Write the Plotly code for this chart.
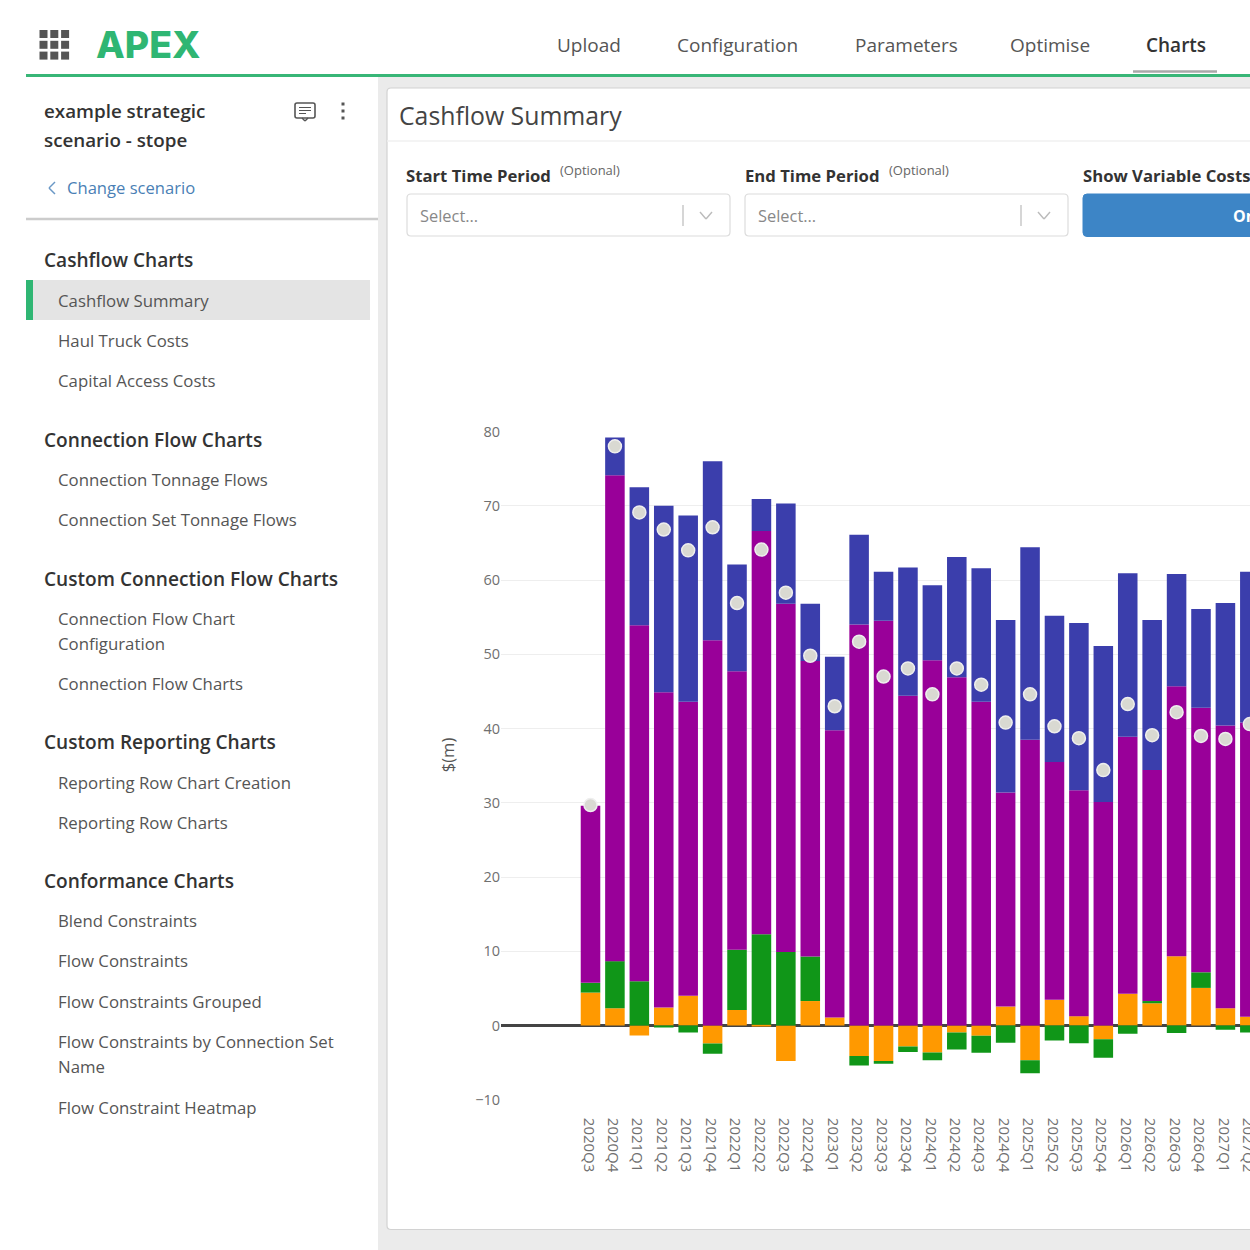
import plotly.graph_objects as go

# ---------- chart data ----------
quarters = ["2020Q3","2020Q4","2021Q1","2021Q2","2021Q3","2021Q4","2022Q1","2022Q2","2022Q3","2022Q4",
            "2023Q1","2023Q2","2023Q3","2023Q4","2024Q1","2024Q2","2024Q3","2024Q4","2025Q1","2025Q2",
            "2025Q3","2025Q4","2026Q1","2026Q2","2026Q3","2026Q4","2027Q1","2027Q2"]
orange = [4.44,2.33,-1.35,2.42,4.0,-2.42,2.1,0.1,-4.76,3.3,1.08,-4.09,-4.76,-2.83,-3.64,-0.94,-1.39,2.56,
          -4.67,3.46,1.26,-1.84,4.27,3.0,9.34,5.07,2.33,1.17]
green = [1.31,6.34,5.97,-0.15,-0.94,-1.39,8.1,12.2,9.9,6.0,0.0,-1.3,-0.4,-0.72,-1.03,-2.29,-2.29,-2.33,
         -1.75,-2.02,-2.38,-2.51,-1.12,0.3,-0.99,2.1,-0.58,-0.94]
purple = [23.85,65.43,47.93,42.48,39.6,51.9,37.5,54.3,46.9,39.8,38.7,54.0,54.5,44.4,49.2,46.9,43.6,28.84,
          38.5,32.04,30.44,30.1,34.63,31.1,36.36,35.62,38.07,39.63]
blue = [0.0,5.1,18.6,25.1,25.1,24.1,14.4,4.3,13.5,7.7,9.9,12.1,6.6,17.3,10.1,16.2,18.0,23.2,25.9,19.7,22.5,
        21.0,22.0,20.2,15.1,13.3,16.5,20.3]
net = [29.7,78.0,69.1,66.8,64.0,67.1,56.9,64.1,58.3,49.8,43.0,51.7,47.0,48.1,44.6,48.1,45.9,40.8,44.6,40.3,
       38.7,34.4,43.3,39.1,42.2,39.0,38.6,40.6]
y_ticks = [-10,0,10,20,30,40,50,60,70,80]

# ---------- page text ----------
nav_items = ["Upload","Configuration","Parameters","Optimise","Charts"]
nav_x = [557,677,855,1010,1146]
groups = ["Cashflow Charts","Connection Flow Charts","Custom Connection Flow Charts","Custom Reporting Charts","Conformance Charts"]
group_y = [261,440.5,579.5,743,881.5]
items = ["Cashflow Summary","Haul Truck Costs","Capital Access Costs","Connection Tonnage Flows","Connection Set Tonnage Flows",
         "Connection Flow Chart","Configuration","Connection Flow Charts","Reporting Row Chart Creation","Reporting Row Charts",
         "Blend Constraints","Flow Constraints","Flow Constraints Grouped","Flow Constraints by Connection Set","Name","Flow Constraint Heatmap"]
item_y = [301,341,381.5,480.5,520.5,619.5,644.5,684.5,783.5,823.5,921,961,1002,1042,1067.5,1108]

FONT = "Open Sans"
W = H = 1250
px = lambda x: x / W
py = lambda y: 1 - y / H

shapes, ann = [], []
def rect(x0, y0, x1, y1, fill, line=None, lw=0):
    shapes.append(dict(type="rect", xref="paper", yref="paper", x0=px(x0), x1=px(x1), y0=py(y0), y1=py(y1),
                       fillcolor=fill, line=dict(color=line or fill, width=lw), layer="below"))
def rrect(x0, y0, x1, y1, r, fill, line=None, lw=0):
    p = lambda x, y: f"{px(x):.5f},{py(y):.5f}"
    path = (f"M{p(x0+r,y0)} L{p(x1-r,y0)} Q{p(x1,y0)} {p(x1,y0+r)} L{p(x1,y1-r)} Q{p(x1,y1)} {p(x1-r,y1)} "
            f"L{p(x0+r,y1)} Q{p(x0,y1)} {p(x0,y1-r)} L{p(x0,y0+r)} Q{p(x0,y0)} {p(x0+r,y0)} Z")
    shapes.append(dict(type="path", xref="paper", yref="paper", path=path, fillcolor=fill,
                       line=dict(color=line or fill, width=lw), layer="below"))
def seg(x0, y0, x1, y1, color, lw=1):
    shapes.append(dict(type="line", xref="paper", yref="paper", x0=px(x0), x1=px(x1), y0=py(y0), y1=py(y1),
                       line=dict(color=color, width=lw), layer="below"))
def text(x, y, s, size=16, color="#444444", weight=400, family=FONT, angle=0, anchor="left"):
    ann.append(dict(xref="paper", yref="paper", x=px(x), y=py(y - 0.8), text=s, showarrow=False, xanchor=anchor,
                    yanchor="middle", align="left", borderpad=0, borderwidth=0, textangle=angle,
                    font=dict(size=size, color=color, family=family, weight=weight)))

# backgrounds
rect(378, 77, 1250, 1250, "#ebebeb")
rrect(387, 88, 1262, 1229.5, 4, "#ffffff", "#d2d2d2", 1.2)
seg(387, 141, 1250, 141, "#f0f0f0", 1.5)
seg(26, 75.5, 1250, 75.5, "#38b677", 3)
seg(1133, 71.5, 1217, 71.5, "#a8a8a8", 2.5)
seg(26, 219, 378, 219, "#cccccc", 2.5)
rect(26, 280, 370, 320, "#e4e4e4")
rect(26, 280, 33, 320, "#2fb673")

# grid icon
for r in range(3):
    for c in range(3):
        x0 = 39.5 + c * 10.8
        y0 = 30 + r * 10.8
        rect(x0, y0, x0 + 8, y0 + 8, "#555555")
text(96, 45, "APEX", 37.4, "#2fb673", 800, "Inter")
for s, x in zip(nav_items, nav_x):
    text(x, 46, s, 19, "#333333" if s == "Charts" else "#555555", 600 if s == "Charts" else 400)

# sidebar header
text(44, 112, "example strategic", 18.8, "#333333", 600)
text(44, 141, "scenario - stope", 18.8, "#333333", 600)
seg(55, 182, 49, 188, "#6a98c6", 1.5)
seg(49, 188, 55, 194, "#6a98c6", 1.5)
text(67, 188.5, "Change scenario", 16.6, "#4a7fb5")
rrect(295, 103, 315, 118, 2, "#ffffff", "#555555", 1.6)
seg(302, 118, 305, 121, "#555555", 1.4)
seg(305, 121, 308, 118, "#555555", 1.4)
for yy, xe in zip([107.5, 110.5, 113.5], [311, 311, 306]):
    seg(299, yy, xe, yy, "#555555", 1)
for yy in [104, 111, 118]:
    rect(341.5, yy - 1.5, 344.5, yy + 1.5, "#555555")
for s, y in zip(groups, group_y):
    text(44, y, s, 19.1, "#333333", 600)
for s, y in zip(items, item_y):
    text(58, y, s, 16.8, "#555555")

# card header and controls
text(399, 115.5, "Cashflow Summary", 24.8, "#444444")
text(406, 176, "Start Time Period", 16.7, "#333333", 700)
text(560, 171, "(Optional)", 13, "#666666")
text(745, 176, "End Time Period", 16.7, "#333333", 700)
text(889, 171, "(Optional)", 13, "#666666")
for x0 in (407, 745):
    rrect(x0, 194, x0 + 323, 236, 4, "#ffffff", "#dcdcdc", 1.2)
    text(x0 + 12.5, 216, "Select...", 16.4, "#888888")
    seg(x0 + 276, 205, x0 + 276, 226, "#bbbbbb", 1.2)
    seg(x0 + 293, 212, x0 + 299, 219, "#bbbbbb", 1.4)
    seg(x0 + 299, 219, x0 + 305, 212, "#bbbbbb", 1.4)
rrect(1083, 194, 1262, 236.5, 4, "#3d85c6", "#3d85c6", 1)
text(447, 755, "$(m)", 16.5, "#555555", angle=-90, anchor="center")

# ---------- chart ----------
fig = go.Figure()
for name, vals, col in [("Orange", orange, "#FF9900"), ("Green", green, "#109618"),
                        ("Purple", purple, "#990099"), ("Blue", blue, "#3B3EAC")]:
    fig.add_bar(x=quarters, y=vals, name=name, marker=dict(color=col, line=dict(width=0)), showlegend=False)
fig.add_scatter(x=quarters, y=net, mode="markers", showlegend=False,
                marker=dict(size=13, color="#d9d9d2", line=dict(color="#eeeeee", width=1.5)))

# labels that run off the page edge go on a hidden page-sized axis pair
edge_labels = ["Show Variable Costs", "On"]
fig.add_scatter(x=[1083, 1233], y=[177.5, 217.5], xaxis="x2", yaxis="y2", mode="text", text=edge_labels,
                textposition="middle right", cliponaxis=True, showlegend=False, hoverinfo="skip",
                textfont=dict(family=FONT, size=[16.7, 16], color=["#333333", "#ffffff"], weight=700))

plot_left, plot_right = 501, 1250
y80, y_10 = 431.5, 1099.8
first_x, step = 590.5, 24.42
fig.update_layout(
    width=W, height=H, autosize=False,
    margin=dict(l=0, r=0, t=0, b=0, pad=0, autoexpand=False),
    paper_bgcolor="#ffffff", plot_bgcolor="rgba(0,0,0,0)",
    barmode="relative", bargap=0.2,
    shapes=shapes, annotations=ann,
    font=dict(family=FONT, color="#666666", size=14),
    xaxis=dict(domain=[px(plot_left), px(plot_right)], type="category", categoryorder="array", categoryarray=quarters,
               range=[(plot_left - first_x) / step, (plot_right - first_x) / step], automargin=False,
               tickangle=90, tickfont=dict(size=15, color="#707070"), showgrid=False, zeroline=False,
               showline=False, ticks="", anchor="y", ticklabelstandoff=17, ticklabelshift=-2),
    yaxis=dict(domain=[py(y_10), py(y80)], range=[-10, 80], tickvals=y_ticks, gridcolor="#eeeeee", gridwidth=1,
               zeroline=True, zerolinecolor="#444444", zerolinewidth=2.5, tickfont=dict(size=14.5, color="#707070"),
               ticks="", showline=False, automargin=False),
    xaxis2=dict(domain=[0, 1], range=[0, W], visible=False, anchor="y2", fixedrange=True, automargin=False),
    yaxis2=dict(domain=[0, 1], range=[H, 0], visible=False, anchor="x2", fixedrange=True, automargin=False),
)
fig.write_html("out.html", config={"displayModeBar": False}, post_script="document.body.style.margin='0';")
